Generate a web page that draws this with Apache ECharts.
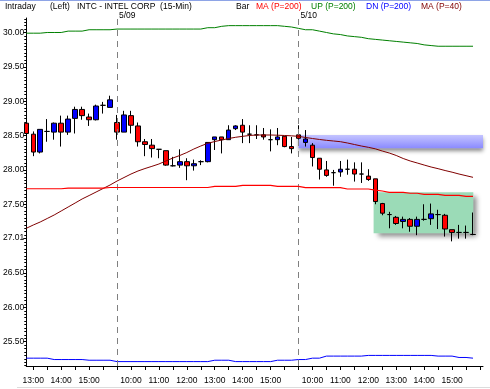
<!DOCTYPE html>
<html><head><meta charset="utf-8">
<script src="https://cdn.jsdelivr.net/npm/echarts@6/dist/echarts.min.js"></script>
<style>html,body{margin:0;padding:0;background:#fff}#c{width:490px;height:389px}</style>
</head><body><div id="c"></div>
<script>
// 15-minute bars: 5/08 (partial), 5/09, 5/10
const times = [
 '12:45','13:00','13:15','13:30','13:45','14:00','14:15','14:30','14:45','15:00','15:15','15:30','15:45',
 '9:30','9:45','10:00','10:15','10:30','10:45','11:00','11:15','11:30','11:45','12:00','12:15','12:30','12:45','13:00','13:15','13:30','13:45','14:00','14:15','14:30','14:45','15:00','15:15','15:30','15:45',
 '9:30','9:45','10:00','10:15','10:30','10:45','11:00','11:15','11:30','11:45','12:00','12:15','12:30','12:45','13:00','13:15','13:30','13:45','14:00','14:15','14:30','14:45','15:00','15:15','15:30','15:45'
];
const opens  = [28.68,28.52,28.26,28.56,28.55,28.68,28.55,28.75,28.88,28.77,28.73,28.94,28.91,
 28.69,28.55,28.79,28.64,28.41,28.36,28.30,28.28,28.06,28.07,28.12,28.06,28.12,28.12,28.44,28.48,28.44,28.60,28.65,28.52,28.51,28.51,28.44,28.44,28.49,28.34,
 28.51,28.40,28.36,28.17,28.00,27.96,27.97,28.01,28.01,27.94,27.91,27.87,27.51,27.35,27.31,27.25,27.28,27.18,27.28,27.29,27.35,27.34,27.13,27.09,27.09,27.06];
const closes = [28.53,28.26,28.59,28.56,28.68,28.55,28.74,28.88,28.79,28.73,28.93,28.94,29.02,
 28.55,28.80,28.65,28.41,28.37,28.31,28.30,28.07,28.06,28.12,28.06,28.09,28.12,28.40,28.48,28.44,28.58,28.64,28.55,28.52,28.51,28.48,28.44,28.48,28.34,28.31,
 28.46,28.45,28.18,28.01,27.92,27.96,28.01,28.01,27.94,27.94,27.86,27.54,27.37,27.35,27.22,27.28,27.18,27.28,27.28,27.36,27.35,27.14,27.09,27.09,27.09,27.06];
const lows   = [28.51,28.20,28.24,28.41,28.44,28.34,28.51,28.53,28.73,28.64,28.72,28.82,28.91,
 28.44,28.55,28.53,28.34,28.20,28.18,28.17,28.06,28.05,28.03,27.85,27.99,28.07,28.11,28.29,28.24,28.44,28.58,28.39,28.39,28.45,28.44,28.27,28.36,28.33,28.24,
 28.44,28.34,28.05,27.86,27.90,27.77,27.90,27.93,27.83,27.81,27.84,27.50,27.34,27.15,27.20,27.15,27.10,27.05,27.26,27.20,27.14,27.03,26.96,27.00,27.00,27.05];
const highs  = [28.77,28.56,28.59,28.74,28.69,28.79,28.79,28.92,28.92,28.82,28.95,28.99,29.08,
 28.80,28.86,28.86,28.69,28.45,28.45,28.30,28.28,28.19,28.30,28.17,28.15,28.14,28.40,28.48,28.48,28.65,28.65,28.74,28.65,28.65,28.61,28.59,28.61,28.49,28.48,
 28.65,28.58,28.39,28.17,28.13,28.00,28.13,28.15,28.11,28.11,28.01,27.87,27.52,27.39,27.33,27.32,27.30,27.32,27.50,27.51,27.42,27.36,27.13,27.20,27.19,27.38];
const ma200 = [27.726,27.726,27.726,27.726,27.726,27.726,27.736,27.736,27.736,27.736,27.736,27.736,
 27.744,27.744,27.744,27.744,27.744,27.744,27.744,27.744,27.744,27.744,27.744,27.744,27.744,27.744,27.744,
 27.761,27.761,27.761,27.761,27.776,27.776,27.776,27.776,27.776,27.761,27.761,27.761,27.761,
 27.741,27.741,27.741,27.741,27.741,27.741,27.722,27.722,27.722,27.722,27.707,27.693,27.674,27.674,27.674,
 27.660,27.660,27.645,27.645,27.645,27.630,27.630,27.630,27.616,27.616];
const up200 = [29.99,29.99,29.99,30.00,30.00,30.00,30.02,30.02,30.02,30.04,30.04,30.04,30.04,
 30.05,30.05,30.05,30.05,30.05,30.05,30.05,30.05,30.05,30.05,30.05,30.05,30.05,
 30.07,30.07,30.09,30.10,30.10,30.10,30.10,30.10,30.10,30.10,30.10,30.09,30.08,
 30.06,30.04,30.04,30.02,30.00,29.98,29.97,29.95,29.94,29.93,29.91,29.90,29.89,29.88,29.87,29.86,29.85,29.84,29.82,29.81,
 29.80,29.80,29.80,29.80,29.80,29.80];
const dn200 = [25.26,25.26,25.26,25.26,25.24,25.24,25.24,25.24,25.24,25.23,25.23,25.23,25.23,
 25.21,25.21,25.21,25.21,25.21,25.21,25.21,25.21,25.21,25.21,25.21,25.21,25.21,25.21,
 25.23,25.23,25.23,25.21,25.21,25.21,25.21,25.21,25.21,25.23,25.23,25.23,
 25.24,25.24,25.26,25.26,25.29,25.29,25.29,25.29,25.29,25.29,25.30,25.30,25.30,25.30,25.30,25.30,25.30,25.30,25.30,25.30,
 25.29,25.29,25.29,25.27,25.27,25.26];
const ma40 = [27.150,27.198,27.242,27.293,27.344,27.402,27.460,27.518,27.577,27.627,27.678,27.729,27.780,
 27.838,27.889,27.940,27.984,28.020,28.052,28.086,28.130,28.173,28.210,28.253,28.304,28.348,28.387,28.413,28.435,28.457,28.475,28.489,28.501,28.508,28.508,28.508,28.505,28.501,28.496,
 28.489,28.472,28.457,28.443,28.431,28.421,28.411,28.392,28.370,28.348,28.329,28.307,28.275,28.246,28.210,28.166,28.130,28.101,28.071,28.042,28.018,27.991,27.967,27.940,27.916,27.892];
const yTickValues = [25.50,26.00,26.50,27.01,27.50,28.00,28.50,29.00,29.50,30.00];
const dayStarts = [13, 39];
const dayNames = ['5/09','5/10'];
const resistZone = {x:[39, 65.43], y:[28.314, 28.508]};
const supportZone = {x:[49.76, 64.04], y:[27.077, 27.674]};

const X_MAX = 65.43, Y_MIN = 25.146, Y_MAX = 30.211;
const idx = times.map((t,i)=>i);
const candleData = idx.map(i=>[i, opens[i], closes[i], lows[i], highs[i]]);
const pair = arr => arr.map((v,i)=>[i,v]);
const labelIdx = idx.filter(i=>times[i].endsWith(':00'));
const tickIdx = idx.filter(i=>/:(00|30)$/.test(times[i])).concat([times.length]);
const minorTicks = [];
for (let k = Math.ceil(Y_MIN*20); k <= Math.floor(Y_MAX*20); k++) minorTicks.push(k/20);

const FONT = 'Liberation Sans, Arial, sans-serif';
const chart = echarts.init(document.getElementById('c'), null, {renderer:'canvas'});
const zoneArea = (z, style) => [[{xAxis:z.x[0], yAxis:z.y[1], itemStyle:style}, {xAxis:z.x[1], yAxis:z.y[0]}]];
const option = {
  animation:false,
  backgroundColor:'#fff',
  grid:{left:25, right:7, top:18, bottom:23},
  xAxis:{type:'value', min:0, max:X_MAX,
    axisLine:{lineStyle:{color:'#000', width:1}},
    axisTick:{customValues:tickIdx, length:4, lineStyle:{color:'#000'}},
    axisLabel:{customValues:labelIdx, formatter:v=>times[v], color:'#000', fontFamily:FONT, fontSize:8.5, margin:10},
    splitLine:{show:false}},
  yAxis:[
    {type:'value', min:Y_MIN, max:Y_MAX, position:'left',
     axisLine:{show:true, lineStyle:{color:'#000'}},
     axisTick:{customValues:yTickValues, length:3, lineStyle:{color:'#000'}},
     axisLabel:{customValues:yTickValues, formatter:v=>v.toFixed(2), color:'#000', fontFamily:FONT, fontSize:8.5, margin:2},
     splitLine:{show:false}},
    {type:'value', min:Y_MIN, max:Y_MAX, position:'left',
     axisLine:{show:false}, axisTick:{customValues:minorTicks, length:2, lineStyle:{color:'#000'}},
     axisLabel:{show:false}, splitLine:{show:false}}
  ],
  series:[
    {type:'line', data:[], z:1, silent:true,
     markArea:{silent:true, data:[
       ...zoneArea(resistZone, {color:'#fff', shadowBlur:4, shadowOffsetX:0, shadowOffsetY:3, shadowColor:'rgba(0,0,0,0.45)'}),
       ...zoneArea(supportZone, {color:'#fff', shadowBlur:5, shadowOffsetX:4, shadowOffsetY:4, shadowColor:'rgba(0,0,0,0.45)'})]}},
    {type:'candlestick', name:'INTC', data:candleData, encode:{x:0, y:[1,2,3,4]}, barWidth:5, z:3, clip:true,
     itemStyle:{color:'#0000ff', color0:'#ff0000', borderColor:'#000', borderColor0:'#000', borderColorDoji:'#000', borderWidth:1},
     markLine:{silent:true, symbol:'none', label:{show:false},
       lineStyle:{color:'#808080', type:[6,5], width:1},
       data:dayStarts.map(d=>({xAxis:d}))}},
    {type:'line', name:'UP (P=200)', data:pair(up200), showSymbol:false, z:4, lineStyle:{color:'#008000', width:1}},
    {type:'line', name:'DN (P=200)', data:pair(dn200), showSymbol:false, z:4, lineStyle:{color:'#0000ff', width:1}},
    {type:'line', name:'MA (P=40)', data:pair(ma40), showSymbol:false, z:4, lineStyle:{color:'#800000', width:1}},
    {type:'line', data:[], z:10, silent:true,
     markArea:{silent:true, data:[
       ...zoneArea(resistZone, {color:{type:'linear',x:0,y:0,x2:0,y2:1,colorStops:[{offset:0,color:'rgba(60,60,255,0.3)'},{offset:1,color:'rgba(60,60,255,0.6)'}]}}),
       ...zoneArea(supportZone, {color:'rgba(5,164,74,0.4)'})]}},
    {type:'line', name:'MA (P=200)', data:pair(ma200), showSymbol:false, z:12, lineStyle:{color:'#ff0000', width:1.2}}
  ]
};
chart.setOption(option);

const hdr = [
  ['Intraday',5,'#000'],['(Left)',50,'#000'],['INTC - INTEL CORP  (15-Min)',77,'#000'],['Bar',236,'#000'],
  ['MA (P=200)',256,'#ff0000'],['UP (P=200)',311,'#008000'],['DN (P=200)',366,'#0000ff'],['MA (P=40)',421,'#800000']
];
const graphics = [
  {type:'rect', shape:{x:0,y:0,width:490,height:1}, style:{fill:'#8ea4e6'}, silent:true},
  {type:'rect', shape:{x:17,y:387,width:473,height:1}, style:{fill:'#dcdcdc'}, silent:true}
];
hdr.forEach(h=>graphics.push({type:'text', x:h[1], y:7, style:{text:h[0], fill:h[2], font:'8.5px '+FONT, textVerticalAlign:'middle'}, silent:true}));
dayStarts.forEach((d,k)=>{
  const px = chart.convertToPixel({xAxisIndex:0}, d);
  graphics.push({type:'text', x:px+2, y:16, style:{text:dayNames[k], fill:'#000', font:'8.5px '+FONT, textVerticalAlign:'middle'}, silent:true});
});
chart.setOption({graphic:graphics});
</script></body></html>
